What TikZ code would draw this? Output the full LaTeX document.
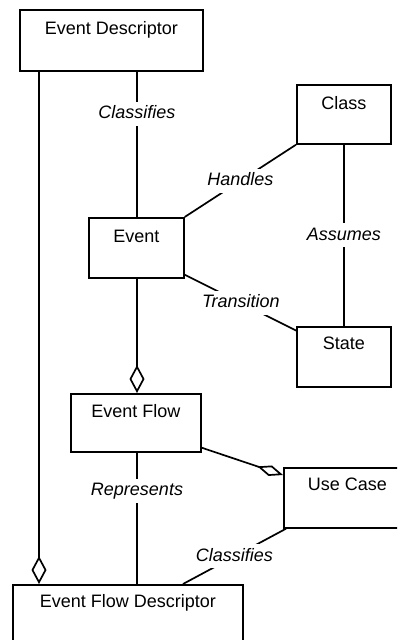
\documentclass[tikz,border=0pt]{standalone}
\usepackage{fontspec}
\setmainfont{Liberation Sans}
\usetikzlibrary{arrows.meta,calc}

\begin{document}
\begin{tikzpicture}[x=1pt,y=-1pt,
  every node/.style={font=\fontsize{18}{20}\selectfont},
  cls/.style n args={3}{draw, line width=1.7pt, inner sep=0pt, anchor=north west,
    minimum width=#1, text height=#2, text depth=#3},
  link/.style={line width=1.7pt},
  agg/.style={link, -{Diamond[open,length=28pt,width=15pt]}},
  aggside/.style={link, -{Diamond[open,length=27pt,width=11pt]}},
  role/.style={fill=white, inner xsep=3pt, inner ysep=4pt, text height=13pt, text depth=3pt,
    font=\fontsize{18}{20}\selectfont\itshape}]
  \clip (0,0) rectangle (397,640);
  \fill[white] (0,0) rectangle (397,640);

  % class boxes
  \node[cls={183pt}{25pt}{36pt}] (ED) at (19,9) {Event Descriptor};
  \node[cls={94pt}{25pt}{34pt}] (Class) at (296,84) {Class};
  \node[cls={95pt}{25pt}{35pt}] (Event) at (88,217) {Event};
  \node[cls={94pt}{23pt}{37pt}] (State) at (296,326) {State};
  \node[cls={130pt}{24pt}{34pt}] (EFlow) at (70,393) {Event Flow};
  \node[cls={127pt}{23pt}{37pt}] (UseCase) at (283,467) {Use Case};
  \node[cls={230pt}{23pt}{39pt}] (EFD) at (12,584) {Event Flow Descriptor};

  % vertical guide columns
  \coordinate (leftcol) at (39,0);
  \coordinate (spine) at (137,0);

  % associations
  \draw[agg] (ED.south -| leftcol) -- (EFD.north -| leftcol);
  \draw[link] (ED.south -| spine) -- node[role, pos=0.29] (l1) {Classifies} (Event.north -| spine);
  \draw[link] (Event.north east) -- node[role] (l2) {Handles} (Class.south west);
  \draw[link] (Class.south) -- node[role] (l3) {Assumes} (State.north);
  \draw[link] ($(Event.south east)+(0,-4)$) -- node[role] (l4) {Transition} ($(State.north west)+(1,5)$);
  \draw[agg] (Event.south -| spine) -- (EFlow.north -| spine);
  \draw[aggside] ($(EFlow.south east)+(0,-5)$) -- ($(UseCase.north west)+(0,8)$);
  \draw[link] (EFlow.south -| spine) -- node[role, pos=0.29] (l5) {Represents} (EFD.north -| spine);
  \draw[link] ($(UseCase.south west)+(3,0)$) -- node[role] (l6) {Classifies} ($(EFD.north west)+(171,0)$);
\end{tikzpicture}
\end{document}
